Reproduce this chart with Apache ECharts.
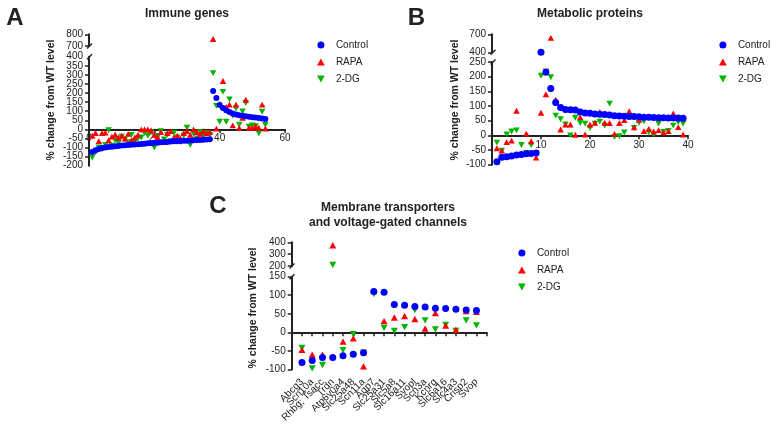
<!DOCTYPE html>
<html>
<head>
<meta charset="utf-8">
<script src="https://cdn.jsdelivr.net/npm/echarts@6/dist/echarts.min.js"></script>
<style>
  html, body { margin: 0; padding: 0; background: #fff; }
  #main { width: 776px; height: 425px; }
</style>
</head>
<body>
<div id="main"></div>
<script>
// A - immune genes, x = gene rank 1..54
var immuneControl = [-125, -115, -108, -103, -100, -97, -95, -93, -91, -89, -87, -86, -84, -83, -82, -80, -79, -77, -76, -74,
  -73, -71, -70, -69, -67, -66, -65, -64, -63, -62, -61, -60, -59, -58, -57, -56, -55,
  211, 173, 134, 118, 105, 95, 88, 82, 78, 75, 72, 69, 67, 65, 62, 60, 57];
var immuneRapa = [-35, -20, -65, -20, -18, -60, -40, -28, -45, -35, -50, -25, -60, -45, -30, 0, 0, 0, -5, -30,
  -45, -15, -70, -20, -10, -45, -35, -50, -20, -10, -30, 0, -15, -25, -10, -20, -15,
  760, 4, 140, 266, 123, 136, 22, 136, 8, 63, 163, 9, 9, 17, 9, 136, 5];
var immune2dg = [-155, -125, -100, -110, -85, -5, -90, -60, -75, -40, -55, -70, -30, -65, -50, -45, -20, -35, -15, -100,
  -40, -10, -55, -30, -65, -20, -45, -70, -35, 10, -85, -25, -50, -15, -40, -20, -30,
  310, 129, 42, 206, 42, 165, 75, 115, 26, 99, 145, 15, 22, 17, -22, 97, 25];

// B - metabolic proteins, x = 1..39
var metabControl = [-90, -75, -73, -70, -67, -65, -63, -62, -60, 400, 215, 160, 112, 95, 88, 87, 86, 80, 76, 75,
  73, 72, 71, 69, 67, 66, 65, 64, 64, 63, 62, 62, 61, 60, 60, 59, 59, 59, 58];
var metabRapa = [-44, -52, -23, -18, 84, -62, 6, -20, -76, 77, 140, 640, 122, 20, 37, 37, 2, 62, 3, 37,
  43, 80, 43, 42, 5, 42, 52, 82, 27, 53, 15, 22, 13, 18, 10, 15, 75, 28, 3];
var metab2dg = [-25, -52, 3, 13, 17, -33, -60, -33, -60, 203, 218, 198, 67, 55, 37, 0, 60, 42, 40, 25,
  40, 47, 33, 108, -5, -3, 10, 65, 25, 43, 48, 10, 3, 40, 12, 15, 33, 45, 40];

// C - membrane transporters and channels
var channelGenes = ['Abcg3', 'Scn10a', 'Rhbg; Tsacc', 'Trdn', 'Atp6v0a4', 'Slc25a48', 'Scn11a', 'Aqp7', 'Slc25a31',
  'Slc5a8', 'Slc16a11', 'Svopl', 'Scn3a', 'Kcnrg', 'Slc6a16', 'Slc4a3', 'Crisp2', 'Svop'];
var channelControl = [-81, -76, -68, -68, -63, -59, -55, 110, 108, 75, 73, 70, 68, 65, 64, 62, 60, 59];
var channelRapa = [-47, -60, -60, 375, -25, -16, -92, 112, 30, 40, 44, 36, 10, 52, 18, 7, 57, 55];
var channel2dg = [-42, -97, -88, 210, -48, -5, -55, 103, 12, 4, 14, 60, 32, 8, 20, 4, 32, 19];

// axis ranges [min, max, interval] for the two pieces of each broken y axis
var immuneLow = [-200, 400, 50], immuneHigh = [700, 800, 100];
var metabLow = [-100, 250, 50], metabHigh = [400, 700, 300];
var channelLow = [-100, 150, 50], channelHigh = [200, 400, 100];

var FONT = '"Liberation Sans", Arial, sans-serif';
var INK = '#222';
var BLUE = '#0000FF', RED = '#FF0000', GREEN = '#00B400';
var UP = 'path://M5,0L10,9L0,9Z';
var DOWN = 'path://M0,0L10,0L5,9Z';

var myChart = echarts.init(document.getElementById('main'));

function pts(arr) {
  return arr.map(function (v, i) { return [i + 1, v]; });
}

function yAx(grid, r, forceEnds) {
  return {
    type: 'value', gridIndex: grid, min: r[0], max: r[1], interval: r[2],
    axisLine: { show: true, lineStyle: { color: INK, width: 2 } },
    axisTick: { show: true, length: 4, lineStyle: { color: INK, width: 1.5 } },
    axisLabel: { fontSize: 10, color: INK, fontFamily: FONT, margin: 6,
      showMinLabel: forceEnds ? true : null, showMaxLabel: forceEnds ? true : null },
    splitLine: { show: false }
  };
}

// extra label-only axis that prints just the end values (the tight A axis hides them otherwise)
function endLabelsY(grid, r) {
  return {
    type: 'value', gridIndex: grid, position: 'left', min: r[0], max: r[1], interval: r[2],
    axisLine: { show: false }, axisTick: { show: false }, splitLine: { show: false },
    axisLabel: { fontSize: 10, color: INK, fontFamily: FONT, margin: 6, showMinLabel: true, showMaxLabel: true,
      formatter: function (v) { return (v === r[0] || v === r[1]) ? String(v) : ''; } }
  };
}

// axis line + ticks sitting on y = 0, no labels
function zeroX(grid, max, interval) {
  return {
    type: 'value', gridIndex: grid, min: 0, max: max, interval: interval,
    axisLine: { show: true, onZero: true, lineStyle: { color: INK, width: 2 } },
    axisTick: { show: true, length: 4, lineStyle: { color: INK, width: 1.5 } },
    axisLabel: { show: false },
    splitLine: { show: false }
  };
}

// labels only, shifted up from the grid bottom by offset
function labelX(grid, max, interval, offset, label) {
  return {
    type: 'value', gridIndex: grid, min: 0, max: max, interval: interval, position: 'bottom', offset: offset,
    axisLine: { show: false, onZero: false }, axisTick: { show: false }, splitLine: { show: false },
    axisLabel: Object.assign({ fontSize: 10, color: INK, fontFamily: FONT, margin: 5,
      showMinLabel: true, showMaxLabel: true }, label || {})
  };
}

function hiddenX(grid, max) {
  return { type: 'value', gridIndex: grid, min: 0, max: max, show: false };
}

function panelSeries(ctrl, rapa, dg, xLow, yLow, xHigh, yHigh, dot, tri) {
  var out = [];
  [[xLow, yLow], [xHigh, yHigh]].forEach(function (ix) {
    out.push({ name: '2-DG', type: 'scatter', xAxisIndex: ix[0], yAxisIndex: ix[1], data: pts(dg),
      symbol: DOWN, symbolSize: [tri, tri * 0.9], itemStyle: { color: GREEN, opacity: 1 }, clip: true });
    out.push({ name: 'RAPA', type: 'scatter', xAxisIndex: ix[0], yAxisIndex: ix[1], data: pts(rapa),
      symbol: UP, symbolSize: [tri, tri * 0.9], itemStyle: { color: RED, opacity: 1 }, clip: true });
    out.push({ name: 'Control', type: 'scatter', xAxisIndex: ix[0], yAxisIndex: ix[1], data: pts(ctrl),
      symbol: 'circle', symbolSize: dot, itemStyle: { color: BLUE, opacity: 1 }, clip: true });
  });
  return out;
}

var legendItems = [
  { name: 'Control', icon: 'circle' },
  { name: 'RAPA', icon: UP },
  { name: '2-DG', icon: DOWN }
];
function legendAt(left, top) {
  return {
    data: legendItems, left: left, top: top, orient: 'vertical',
    itemWidth: 20, itemHeight: 7, itemGap: 7, selectedMode: false,
    textStyle: { fontSize: 10, color: INK, fontFamily: FONT }
  };
}

function txt(x, y, s, size, weight, rot) {
  return {
    type: 'text', x: x, y: y, rotation: rot || 0,
    style: {
      text: s, font: weight + ' ' + size + 'px ' + FONT, fill: INK,
      align: 'center', verticalAlign: 'middle', textAlign: 'center', textVerticalAlign: 'middle'
    }
  };
}

function slash(x, y) {
  return { type: 'line', shape: { x1: x - 2.5, y1: y + 2.5, x2: x + 2.5, y2: y - 2.5 },
    style: { stroke: INK, lineWidth: 1.5 } };
}

var option = {
  animation: false,
  grid: [
    { left: 89, top: 56.7, width: 196, height: 109 },
    { left: 89, top: 34.3, width: 196, height: 11.7 },
    { left: 492, top: 62, width: 196, height: 102.7 },
    { left: 492, top: 34.3, width: 196, height: 18 },
    { left: 291.7, top: 276.7, width: 195, height: 96.3 },
    { left: 291.7, top: 242.3, width: 195, height: 23.7 }
  ],
  xAxis: [
    zeroX(0, 60, 20),
    hiddenX(1, 60),
    zeroX(2, 40, 10),
    hiddenX(3, 40),
    zeroX(4, 19, 1),
    hiddenX(5, 19),
    labelX(0, 60, 20, -37),
    labelX(2, 40, 10, -29, { showMinLabel: false }),
    labelX(4, 19, 1, 0, {
      rotate: 45, margin: 11,
      formatter: function (v) { return channelGenes[v - 1] || ''; }
    })
  ],
  yAxis: [
    yAx(0, immuneLow), yAx(1, immuneHigh, true),
    yAx(2, metabLow, true), yAx(3, metabHigh, true),
    yAx(4, channelLow, true), yAx(5, channelHigh, true),
    endLabelsY(0, immuneLow)
  ],
  legend: [legendAt(312, 35), legendAt(714, 35), legendAt(513, 243)],
  series: []
    .concat(panelSeries(immuneControl, immuneRapa, immune2dg, 0, 0, 1, 1, 6, 6.5))
    .concat(panelSeries(metabControl, metabRapa, metab2dg, 2, 2, 3, 3, 7, 6.5))
    .concat(panelSeries(channelControl, channelRapa, channel2dg, 4, 4, 5, 5, 7, 7)),
  graphic: { elements: [
    txt(15, 18.5, 'A', 24, 'bold'),
    txt(416.5, 18.5, 'B', 24, 'bold'),
    txt(218, 206, 'C', 24, 'bold'),
    txt(187, 13.5, 'Immune genes', 12, 'bold'),
    txt(590, 13.5, 'Metabolic proteins', 12, 'bold'),
    txt(388, 207.5, 'Membrane transporters', 12, 'bold'),
    txt(388, 222.5, 'and voltage-gated channels', 12, 'bold'),
    txt(51, 100, '% change from WT level', 10.5, 'bold', Math.PI / 2),
    txt(455, 100, '% change from WT level', 10.5, 'bold', Math.PI / 2),
    txt(253, 308, '% change from WT level', 10.5, 'bold', Math.PI / 2),
    slash(89.5, 46), slash(89.5, 56.7),
    slash(493, 52.3), slash(493, 62),
    slash(292, 266), slash(292, 276.7)
  ] }
};

myChart.setOption(option);
window.onresize = myChart.resize;
</script>
</body>
</html>
